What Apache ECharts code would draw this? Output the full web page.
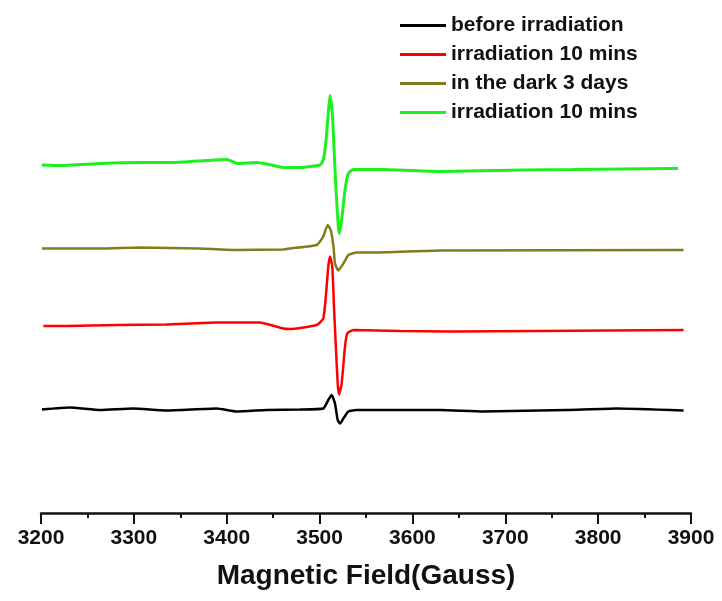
<!DOCTYPE html>
<html>
<head>
<meta charset="utf-8">
<script src="https://cdn.jsdelivr.net/npm/echarts@6/dist/echarts.min.js"></script>
<style>
  html, body { margin: 0; padding: 0; background: #fff; }
  #chart { width: 722px; height: 601px; }
</style>
</head>
<body>
<div id="chart"></div>
<script>
// EPR spectra (stacked with vertical offsets, arbitrary intensity units)
const seriesNames = ['before irradiation', 'irradiation 10 mins', 'in the dark 3 days', 'irradiation 10 mins'];
const seriesColors = ['#000000', '#ff0000', '#807d1e', '#1ef01e'];

const blackField = [3201, 3231, 3264, 3299, 3335, 3389, 3411, 3443, 3479, 3504, 3509.4, 3513, 3516.6, 3519.5, 3522, 3525.6, 3531, 3540, 3630, 3676, 3766, 3820, 3892];
const blackSignal = [20.7, 21.1, 20.6, 20.9, 20.5, 20.9, 20.3, 20.6, 20.7, 20.9, 22.6, 23.6, 21.9, 18.6, 17.9, 18.9, 20.3, 20.6, 20.6, 20.3, 20.6, 20.9, 20.5];

const redField = [3202.5, 3228, 3281.5, 3335, 3389, 3436, 3447, 3461, 3468, 3497, 3504, 3507, 3509.4, 3511.2, 3513.7, 3515.5, 3517.7, 3519.5, 3521, 3523.8, 3527.4, 3529.8, 3536.3, 3587, 3640.5, 3737, 3892];
const redSignal = [37.4, 37.4, 37.6, 37.7, 38.1, 38.1, 37.6, 36.9, 36.8, 37.6, 38.9, 43.9, 49.3, 51.3, 49.3, 41.3, 32.6, 25.9, 23.7, 25.9, 33.3, 35.9, 36.6, 36.4, 36.3, 36.4, 36.6];

const oliveField = [3201, 3264, 3307, 3371, 3407, 3461, 3468, 3497, 3504, 3508.7, 3512, 3515, 3516.6, 3520.2, 3525.6, 3531, 3540, 3554, 3630, 3892];
const oliveSignal = [52.9, 52.9, 53.1, 52.9, 52.6, 52.7, 52.9, 53.6, 55.3, 57.6, 56.6, 53.3, 49.9, 48.5, 49.9, 51.6, 52.1, 52.1, 52.5, 52.6];

const greenField = [3201, 3220, 3264, 3307, 3342, 3378, 3400, 3412, 3432, 3443, 3461, 3479, 3500.5, 3504, 3507, 3509.4, 3511.2, 3513.7, 3515.5, 3517.7, 3520.2, 3521.2, 3523.8, 3527.4, 3530.9, 3536.3, 3568, 3630, 3719, 3773, 3877, 3886];
const greenSignal = [69.6, 69.5, 69.9, 70.1, 70.1, 70.5, 70.7, 69.9, 70.1, 69.8, 69.1, 69.1, 69.6, 70.6, 74.6, 80.0, 83.5, 80.0, 73.3, 64.6, 57.3, 55.9, 58.6, 64.6, 67.9, 68.7, 68.7, 68.3, 68.6, 68.7, 68.9, 68.9];

const xTicks = [3200, 3300, 3400, 3500, 3600, 3700, 3800, 3900];

const pairs = (xs, ys) => xs.map((x, i) => [x, ys[i]]);
const traces = [
  pairs(blackField, blackSignal),
  pairs(redField, redSignal),
  pairs(oliveField, oliveSignal),
  pairs(greenField, greenSignal)
];

const chart = echarts.init(document.getElementById('chart'));
chart.setOption({
  animation: false,
  backgroundColor: '#ffffff',
  grid: { left: 41, right: 31, top: 13, bottom: 88 },
  legend: {
    orient: 'vertical',
    left: 395,
    top: 10,
    itemWidth: 46,
    itemHeight: 3,
    itemGap: 8,
    icon: 'rect',
    textStyle: {
      fontFamily: 'Liberation Sans, Arial, sans-serif',
      fontWeight: 'bold',
      fontSize: 21,
      lineHeight: 21,
      color: '#111'
    },
    data: seriesNames.map((n, i) => ({ name: n + '\u200b'.repeat(i), itemStyle: { color: seriesColors[i] } })),
    formatter: n => n.replace(/\u200b/g, '')
  },
  xAxis: {
    type: 'value',
    min: 3200,
    max: 3900,
    interval: 100,
    name: 'Magnetic Field(Gauss)',
    nameLocation: 'middle',
    nameGap: 49,
    nameTextStyle: {
      fontFamily: 'Liberation Sans, Arial, sans-serif',
      fontWeight: 'bold',
      fontSize: 28,
      color: '#111'
    },
    axisLine: { show: true, lineStyle: { color: '#111', width: 2.5 } },
    axisTick: { show: true, length: 11, inside: false, lineStyle: { color: '#111', width: 2 } },
    minorTick: { show: true, splitNumber: 2, length: 5, lineStyle: { color: '#111', width: 2 } },
    splitLine: { show: false },
    axisLabel: {
      margin: 15,
      fontFamily: 'Liberation Sans, Arial, sans-serif',
      fontWeight: 'bold',
      fontSize: 21,
      color: '#111',
      formatter: v => (xTicks.includes(v) ? String(v) : '')
    }
  },
  yAxis: {
    type: 'value',
    min: 0,
    max: 100,
    show: false
  },
  series: traces.map((d, i) => ({
    name: seriesNames[i] + '\u200b'.repeat(i),
    type: 'line',
    data: d,
    symbol: 'none',
    smooth: 0.15,
    lineStyle: { color: seriesColors[i], width: i === 3 ? 3 : 2.5 },
    itemStyle: { color: seriesColors[i] },
    z: 2 + i
  }))
});
</script>
</body>
</html>
